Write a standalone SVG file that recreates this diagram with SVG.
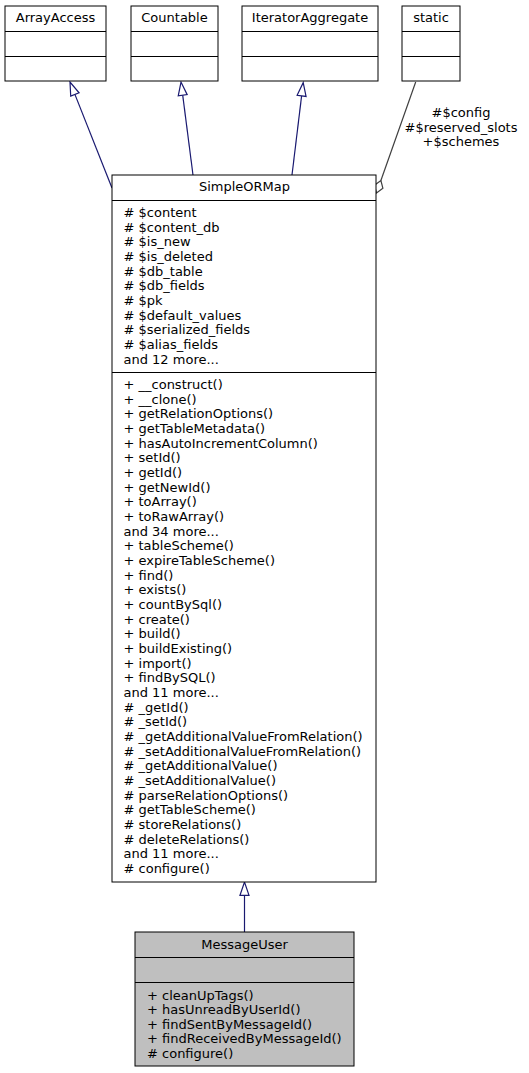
<svg xmlns="http://www.w3.org/2000/svg" width="529" height="1073" viewBox="0 0 529 1073">
<style>
  text { font-family: "DejaVu Sans", "Liberation Sans", sans-serif; font-size: 13px; fill: #000; }
  .title { text-anchor: middle; }
  .box { fill: #fff; stroke: #000; stroke-width: 1; }
  .hl { fill: #bfbfbf; }
  .div { stroke: #000; stroke-width: 1; }
  .inh { fill: none; stroke: #191970; stroke-width: 1.2; marker-end: url(#tri); }
  .agg { fill: none; stroke: #404040; stroke-width: 1.2; }
  .lbl { text-anchor: middle; }
</style>
<defs>
  <marker id="tri" markerUnits="userSpaceOnUse" markerWidth="16" markerHeight="12" refX="0.5" refY="5" orient="auto" overflow="visible">
    <path d="M0.5,0.5 L13.8,5 L0.5,9.5 Z" fill="#fff" stroke="#191970" stroke-width="1.2"/>
  </marker>
</defs>

<g id="connectors">
  <path class="inh" d="M112,188 L74.9,94.4"/>
  <path class="inh" d="M193,175 L182.7,95.2"/>
  <path class="inh" d="M292,175 L301.6,95.9"/>
  <path class="inh" d="M244.5,932 L244.5,895.3"/>
  <path class="agg" d="M415.7,82 L380.9,180.5"/>
  <polygon points="376.5,193 374.5,185.3 380.9,180.5 382.9,188.3" fill="#fff" stroke="#404040" stroke-width="1.2"/>
  <text class="lbl" x="461" y="117">#$config</text>
  <text class="lbl" x="461" y="131.7">#$reserved_slots</text>
  <text class="lbl" x="461" y="146.4">+$schemes</text>
</g>

<g id="ArrayAccess">
  <rect class="box" x="5" y="6" width="101" height="75"/>
  <line class="div" x1="5" y1="31.5" x2="106" y2="31.5"/>
  <line class="div" x1="5" y1="56.5" x2="106" y2="56.5"/>
  <text class="title" x="55.5" y="22">ArrayAccess</text>
</g>

<g id="Countable">
  <rect class="box" x="131" y="6" width="87" height="75"/>
  <line class="div" x1="131" y1="31.5" x2="218" y2="31.5"/>
  <line class="div" x1="131" y1="56.5" x2="218" y2="56.5"/>
  <text class="title" x="174.5" y="22">Countable</text>
</g>

<g id="IteratorAggregate">
  <rect class="box" x="242" y="6" width="136" height="75"/>
  <line class="div" x1="242" y1="31.5" x2="378" y2="31.5"/>
  <line class="div" x1="242" y1="56.5" x2="378" y2="56.5"/>
  <text class="title" x="310" y="22">IteratorAggregate</text>
</g>

<g id="static">
  <rect class="box" x="402" y="6" width="58" height="75"/>
  <line class="div" x1="402" y1="31.5" x2="460" y2="31.5"/>
  <line class="div" x1="402" y1="56.5" x2="460" y2="56.5"/>
  <text class="title" x="431" y="22">static</text>
</g>

<g id="SimpleORMap">
  <rect class="box" x="112" y="175" width="264" height="707"/>
  <line class="div" x1="112" y1="200.5" x2="376" y2="200.5"/>
  <line class="div" x1="112" y1="372.5" x2="376" y2="372.5"/>
  <text class="title" x="244.5" y="191">SimpleORMap</text>
  <text x="123.5" y="217">
    <tspan x="123.5" dy="0"># $content</tspan>
    <tspan x="123.5" dy="14.67"># $content_db</tspan>
    <tspan x="123.5" dy="14.67"># $is_new</tspan>
    <tspan x="123.5" dy="14.67"># $is_deleted</tspan>
    <tspan x="123.5" dy="14.67"># $db_table</tspan>
    <tspan x="123.5" dy="14.67"># $db_fields</tspan>
    <tspan x="123.5" dy="14.67"># $pk</tspan>
    <tspan x="123.5" dy="14.67"># $default_values</tspan>
    <tspan x="123.5" dy="14.67"># $serialized_fields</tspan>
    <tspan x="123.5" dy="14.67"># $alias_fields</tspan>
    <tspan x="123.5" dy="14.67">and 12 more...</tspan>
  </text>
  <text x="123.5" y="389">
    <tspan x="123.5" dy="0">+ __construct()</tspan>
    <tspan x="123.5" dy="14.67">+ __clone()</tspan>
    <tspan x="123.5" dy="14.67">+ getRelationOptions()</tspan>
    <tspan x="123.5" dy="14.67">+ getTableMetadata()</tspan>
    <tspan x="123.5" dy="14.67">+ hasAutoIncrementColumn()</tspan>
    <tspan x="123.5" dy="14.67">+ setId()</tspan>
    <tspan x="123.5" dy="14.67">+ getId()</tspan>
    <tspan x="123.5" dy="14.67">+ getNewId()</tspan>
    <tspan x="123.5" dy="14.67">+ toArray()</tspan>
    <tspan x="123.5" dy="14.67">+ toRawArray()</tspan>
    <tspan x="123.5" dy="14.67">and 34 more...</tspan>
    <tspan x="123.5" dy="14.67">+ tableScheme()</tspan>
    <tspan x="123.5" dy="14.67">+ expireTableScheme()</tspan>
    <tspan x="123.5" dy="14.67">+ find()</tspan>
    <tspan x="123.5" dy="14.67">+ exists()</tspan>
    <tspan x="123.5" dy="14.67">+ countBySql()</tspan>
    <tspan x="123.5" dy="14.67">+ create()</tspan>
    <tspan x="123.5" dy="14.67">+ build()</tspan>
    <tspan x="123.5" dy="14.67">+ buildExisting()</tspan>
    <tspan x="123.5" dy="14.67">+ import()</tspan>
    <tspan x="123.5" dy="14.67">+ findBySQL()</tspan>
    <tspan x="123.5" dy="14.67">and 11 more...</tspan>
    <tspan x="123.5" dy="14.67"># _getId()</tspan>
    <tspan x="123.5" dy="14.67"># _setId()</tspan>
    <tspan x="123.5" dy="14.67"># _getAdditionalValueFromRelation()</tspan>
    <tspan x="123.5" dy="14.67"># _setAdditionalValueFromRelation()</tspan>
    <tspan x="123.5" dy="14.67"># _getAdditionalValue()</tspan>
    <tspan x="123.5" dy="14.67"># _setAdditionalValue()</tspan>
    <tspan x="123.5" dy="14.67"># parseRelationOptions()</tspan>
    <tspan x="123.5" dy="14.67"># getTableScheme()</tspan>
    <tspan x="123.5" dy="14.67"># storeRelations()</tspan>
    <tspan x="123.5" dy="14.67"># deleteRelations()</tspan>
    <tspan x="123.5" dy="14.67">and 11 more...</tspan>
    <tspan x="123.5" dy="14.67"># configure()</tspan>
  </text>
</g>

<g id="MessageUser">
  <rect class="box hl" x="135" y="932" width="219" height="134"/>
  <line class="div" x1="135" y1="957.5" x2="354" y2="957.5"/>
  <line class="div" x1="135" y1="982.5" x2="354" y2="982.5"/>
  <text class="title" x="244.5" y="949">MessageUser</text>
  <text x="147" y="999.5">
    <tspan x="147" dy="0">+ cleanUpTags()</tspan>
    <tspan x="147" dy="14.5">+ hasUnreadByUserId()</tspan>
    <tspan x="147" dy="14.5">+ findSentByMessageId()</tspan>
    <tspan x="147" dy="14.5">+ findReceivedByMessageId()</tspan>
    <tspan x="147" dy="14.5"># configure()</tspan>
  </text>
</g>
</svg>
